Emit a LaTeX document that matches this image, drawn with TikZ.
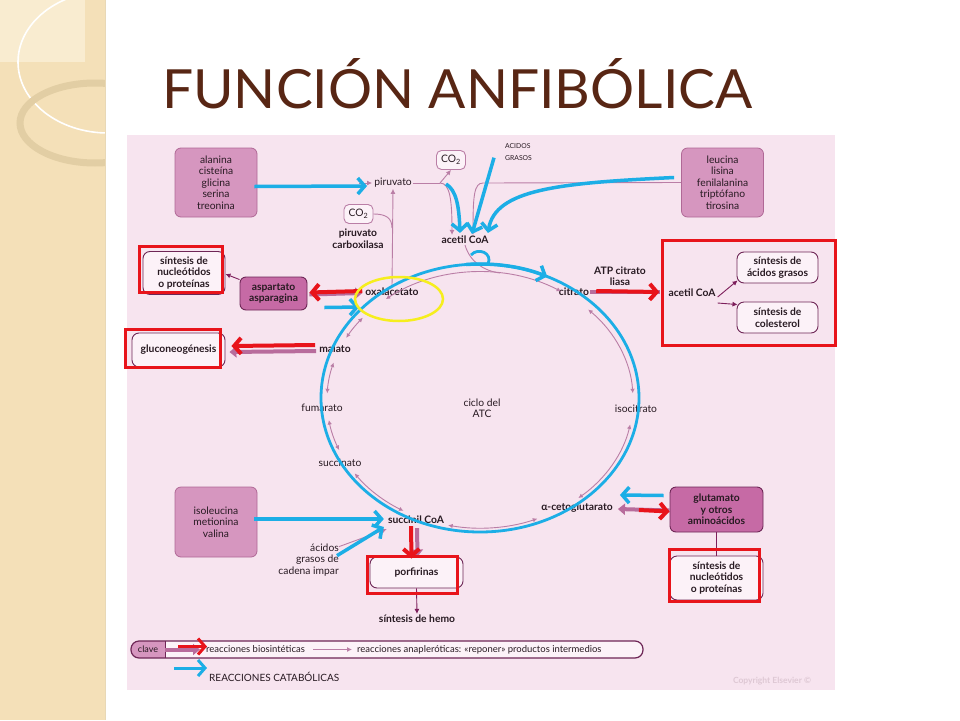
\documentclass[tikz,border=0pt]{standalone}
\usepackage{fontspec}
\setmainfont{Lato}
\usetikzlibrary{arrows.meta,positioning}

\definecolor{panelc}{RGB}{247,228,239}
\definecolor{stripc}{RGB}{244,224,184}
\definecolor{stripl}{RGB}{249,236,208}
\definecolor{ringc}{RGB}{226,206,164}
\definecolor{titlec}{RGB}{88,38,20}
\definecolor{textc}{RGB}{40,26,34}
\definecolor{aafill}{RGB}{214,150,191}
\definecolor{aaline}{RGB}{176,104,150}
\definecolor{dkfill}{RGB}{198,106,165}
\definecolor{dkline}{RGB}{110,38,86}
\definecolor{synfill}{RGB}{252,242,248}
\definecolor{pinkc}{RGB}{186,126,166}
\definecolor{fatc}{RGB}{184,108,156}
\definecolor{purc}{RGB}{125,30,91}
\definecolor{redc}{RGB}{232,20,27}
\definecolor{bluec}{RGB}{28,174,230}
\definecolor{yelc}{RGB}{246,238,30}
\definecolor{copyc}{RGB}{222,200,212}

\newcommand\lbl{\fontsize{10.3}{11.5}\selectfont}
\newcommand\lblb{\fontsize{10.3}{11.5}\selectfont\bfseries}

\begin{document}
\begin{tikzpicture}[x=1pt,y=-1pt,
    every node/.style={text=textc},
    aabox/.style={draw=aaline, fill=aafill, rounded corners=6pt, line width=0.8pt,
                  minimum width=82pt, align=center, font=\lbl},
    darkbox/.style={draw=dkline, fill=dkfill, rounded corners=6pt, line width=0.9pt,
                    align=center, font=\lblb},
    synbox/.style={draw=dkline, fill=synfill, rounded corners=7pt, line width=0.9pt,
                   align=center, font=\lblb},
    co2box/.style={draw=pinkc, fill=synfill, rounded corners=5pt, line width=0.9pt,
                   font=\lbl, minimum width=29pt, minimum height=19pt, inner sep=1pt},
    redbox/.style={draw=redc, line width=3pt},
    met/.style={font=\lblb, inner sep=1pt},
    metn/.style={font=\lbl, inner sep=1pt},
    bluearr/.style={draw=bluec, line width=3.5pt, -{Straight Barb[length=7pt,width=16pt]}},
    redarr/.style={draw=redc, line width=4pt, -{Straight Barb[length=7pt,width=16pt]}},
    pinkarr/.style={draw=pinkc, line width=0.9pt, -{Latex[length=5pt,width=5pt]}},
    purparr/.style={draw=purc, line width=0.9pt, -{Latex[length=5pt,width=5pt]}},
    fatarr/.style={draw=fatc, line width=4pt, -{Triangle[length=7pt,width=11pt]}},
    cycarr/.style={draw=pinkc, line width=0.9pt,
                   {Latex[length=4.5pt,width=4.5pt]}-{Latex[length=4.5pt,width=4.5pt]}},
]
\useasboundingbox (0,0) rectangle (960,720);

% slide background
\fill[white] (0,0) rectangle (960,720);
\begin{scope}
  \clip (0,0) rectangle (105,720);
  \fill[stripc] (0,0) rectangle (105,720);
  \fill[stripl] (0,0) rectangle (85,62);
  \draw[white, line width=1.6pt] (108,62) ellipse [x radius=90, y radius=71];
  \draw[ringc, line width=7pt] (95,123) ellipse [x radius=75, y radius=40];
\end{scope}
\draw[ringc!80!white, line width=0.8pt] (105,0) -- (105,720);

% title
\node[anchor=base west, inner sep=0, text=titlec] (title) at (162,108)
  {\resizebox{590pt}{50pt}{FUNCIÓN ANFIBÓLICA}};

% figure panel
\fill[panelc] (127,135) rectangle (835,690);

% amino acid sources
\node[aabox, minimum height=69pt] (ala) at (216,182.5)
  {alanina\\cisteína\\glicina\\serina\\treonina};
\node[aabox, minimum height=69pt] (leu) at (722.5,182.5)
  {leucina\\lisina\\fenilalanina\\triptófano\\tirosina};
\node[aabox, minimum height=70pt] (ile) at (216,522)
  {isoleucina\\metionina\\valina};

% top metabolites
\node[metn] (piru) at (393,183) {piruvato};
\node[co2box] (co2a) at (451,160) {CO\textsubscript{2}};
\node[co2box] (co2b) at (358.5,214) {CO\textsubscript{2}};
\node[met, align=center] (pc) at (358,238.5) {piruvato\\carboxilasa};
\node[met] (acoa) at (465,240) {acetil CoA};
\node[anchor=north west, inner sep=0, align=left, font=\fontsize{6.8}{12}\selectfont]
  (acgr) at (505,143) {ACIDOS\\GRASOS};

% left side
\node[synbox, minimum width=82pt, minimum height=43pt] (syn1) at (184,273)
  {síntesis de\\nucleótidos\\o proteínas};
\node[darkbox, minimum width=67pt, minimum height=33pt] (asp) at (273.5,293.5)
  {aspartato\\asparagina};
\node[synbox, minimum width=93pt, minimum height=34pt] (glu) at (178.5,350)
  {gluconeogénesis};

% right side
\node[met, align=center] (atpl) at (620,276) {ATP citrato\\liasa};
\node[met] (acoa2) at (692,293) {acetil CoA};
\node[synbox, minimum width=81pt, minimum height=31pt] (fa) at (777.5,267.5)
  {síntesis de\\ácidos grasos};
\node[synbox, minimum width=81pt, minimum height=31pt] (col) at (777.5,317.5)
  {síntesis de\\colesterol};
\node[darkbox, minimum width=93pt, minimum height=45pt] (glut) at (716.5,509.5)
  {glutamato\\y otros\\aminoácidos};
\node[synbox, minimum width=93pt, minimum height=44pt] (syn2) at (716.5,578)
  {síntesis de\\nucleótidos\\o proteínas};

% bottom
\node[anchor=east, align=right, font=\lbl, inner sep=0] (afi) at (339,560)
  {ácidos\\grasos de\\cadena impar};
\node[synbox, minimum width=93pt, minimum height=31pt] (por) at (416.5,572.5) {porfirinas};
\node[met] (hemo) at (417,619) {síntesis de hemo};

% cycle labels
\node[met] (oxa) at (392,292) {oxalacetato};
\node[met] (cit) at (574,292) {citrato};
\node[metn] (iso) at (636,409) {isocitrato};
\node[met] (akg) at (577,508) {α-cetoglutarato};
\node[met] (sca) at (416,520) {succinil CoA};
\node[metn] (suc) at (340,463) {succinato};
\node[metn] (fum) at (322,408) {fumarato};
\node[met] (mal) at (335,349) {malato};
\node[metn, align=center] (atc) at (482,408) {ciclo del\\ATC};

% cycle arcs
\foreach \a/\b in {232/302, -45/-3, 11/50, 68/102, 120/145, 157/171, 183/197, 209/220}
  \draw[cycarr] ([shift={(\a:153 and 128)}]480,400)
    arc[start angle=\a, end angle=\b, x radius=153, y radius=128];
\draw[pinkc, line width=0.9pt] (acoa.south) .. controls (470,262) and (484,271) .. (500,273);

% thin connectors
\draw[pinkarr] ([xshift=-2pt]piru.west) ++(-12,0) -- ([xshift=-1pt]piru.west);
\draw[pinkc, line width=0.9pt] (piru.east) -- (440,183);
\draw[pinkarr] (440,183) -- (co2a.south);
\draw[pinkarr] (440,183) .. controls (450,183) and (452,200) .. ([xshift=-13pt]acoa.north);
\draw[pinkarr] (leu.west) -- (483,183) .. controls (474,183) and (473,196) .. ([xshift=8pt]acoa.north);
\draw[pinkarr, {Latex[length=5pt,width=5pt]}-] (piru.south) -- (oxa.north);
\draw[pinkc, line width=0.9pt] (co2b.east) .. controls (386,214) and (392,218) .. (392,228);
\draw[purparr] ([yshift=-3pt]asp.north west) -- ([yshift=-1pt]syn1.east);
\draw[purparr] ([xshift=1pt, yshift=-4pt]acoa2.east) -- ([xshift=1pt, yshift=3pt]fa.south west);
\draw[purparr] ([xshift=1pt, yshift=-10pt]acoa2.east) -- ([xshift=1pt, yshift=-3pt]col.north west);
\draw[purparr] (por.south) -- (hemo.north);
\draw[purc, line width=0.9pt] (glut.south) -- (syn2.north);
\draw[pinkarr] ([yshift=-3pt]afi.north east) -- ([yshift=-4pt]sca.south west);

% thick pink (biosynthetic) arrows
\draw[fatarr] ([xshift=2pt, yshift=-1pt]asp.east) -- ([xshift=-2pt, yshift=-1pt]oxa.west);
\draw[fatarr] ([xshift=-2pt, yshift=-2pt]mal.west) -- ([xshift=4pt, yshift=-2pt]glu.east);
\draw[draw=fatc, line width=4pt] (cit.east) -- (660,292);
\draw[fatarr] ([xshift=1pt]sca.south) ++(0,3) -- ([xshift=1pt]por.north);
\draw[fatarr] ([yshift=-1pt]glut.west) -- ([xshift=4pt, yshift=-1pt]akg.east);

% red biosynthetic arrows
\draw[redarr] ([xshift=-2pt, yshift=1pt]oxa.west) -- ([xshift=2pt, yshift=1pt]asp.east);
\draw[redarr] ([xshift=-3pt, yshift=4pt]mal.west) -- ([xshift=6pt, yshift=4pt]glu.east);
\draw[redarr] ([xshift=6pt, yshift=1pt]cit.east) -- ([xshift=-8pt, yshift=1pt]acoa2.west);
\draw[redarr] ([xshift=-5pt]sca.south) ++(0,1) -- ([xshift=-5pt, yshift=-2pt]por.north);
\draw[redarr] ([xshift=25pt, yshift=-2pt]akg.east) -- ([yshift=-2pt]glut.west);

% catabolic arrows
\draw[bluearr] (ala.east) ++(-3,4) -- ([xshift=-6pt, yshift=-3pt]piru.west);
\draw[bluearr] (446,184) .. controls (456,190) and (459,205) .. ([xshift=-5pt, yshift=2pt]acoa.north);
\draw[bluearr] ([xshift=-11pt, yshift=-6pt]acgr.west) -- ([xshift=7pt, yshift=1pt]acoa.north);
\draw[bluearr] ([xshift=-7pt, yshift=5pt]leu.west) .. controls (560,183) and (495,189) .. ([xshift=23pt, yshift=2pt]acoa.north);
\draw[bluearr] ([xshift=17pt, yshift=-14pt]asp.east) -- ([xshift=-5pt, yshift=-15pt]oxa.west);
\draw[bluearr] (ile.east) ++(-3,-3) -- ([xshift=-3pt, yshift=1pt]sca.west);
\draw[bluearr] ([xshift=-2pt, yshift=-12pt]afi.north east) -- ([xshift=-3pt, yshift=-7pt]sca.west);
\draw[bluearr] ([yshift=14pt]glut.west) ++(-6,0) -- ([xshift=6pt, yshift=13pt]akg.east);

% blue loop round the cycle
\draw[bluec, line width=2.8pt] (480,398) ellipse [x radius=159, y radius=134];
\draw[bluec, line width=2.8pt] (471,255) .. controls (478,247) and (493,253) .. (488,264);
\draw[bluearr] ([shift={(-95:159 and 134)}]480,398)
  arc[start angle=-95, end angle=-65, x radius=159, y radius=134];

% highlights
\draw[yelc, line width=2.5pt] (399,299) ellipse [x radius=44, y radius=22];
\draw[redbox] (139,246) rectangle (222,292);
\draw[redbox] (125,329) rectangle (220,367);
\draw[redbox] (662,240) rectangle (835,345);
\draw[redbox] (367,556) rectangle (457,593);
\draw[redbox] (669,549) rectangle (759,601);

% key
\begin{scope}
  \clip[rounded corners=8pt] (131,641) rectangle (643,658);
  \fill[synfill] (131,641) rectangle (643,658);
  \fill[aafill] (131,641) rectangle (165,658);
\end{scope}
\draw[dkline, line width=1.2pt, rounded corners=8pt] (131,641) rectangle (643,658);
\draw[dkline, line width=0.9pt] (165,641) -- (165,658);
\node[font=\fontsize{9}{10}\selectfont, inner sep=0] (clave) at (148,649.5) {clave};
\node[anchor=west, font=\fontsize{9.5}{10}\selectfont, inner sep=0] (bio) at (206,649.5)
  {reacciones biosintéticas};
\node[anchor=west, font=\fontsize{9.5}{10}\selectfont, inner sep=0] (ana) at (357,649.5)
  {reacciones anapleróticas: «reponer» productos intermedios};
\draw[fatarr] ([xshift=3pt]clave.east) ++(4,0) -- ([xshift=-6pt]bio.west);
\draw[redarr, line width=3pt] ([xshift=-28pt, yshift=3pt]bio.west) -- ([xshift=1pt, yshift=3pt]bio.west);
\draw[pinkarr] ([xshift=8pt]bio.east) -- ([xshift=-5pt]ana.west);
\node[anchor=west, font=\fontsize{10}{11}\selectfont, inner sep=0] (cat) at (209,677)
  {REACCIONES CATABÓLICAS};
\draw[bluearr, line width=3pt] ([xshift=-35pt, yshift=9pt]cat.west) -- ([xshift=-2pt, yshift=9pt]cat.west);
\node[font=\fontsize{8.5}{10}\selectfont\bfseries, text=copyc, inner sep=0] (copy) at (772,681)
  {Copyright Elsevier ©};
\end{tikzpicture}
\end{document}
